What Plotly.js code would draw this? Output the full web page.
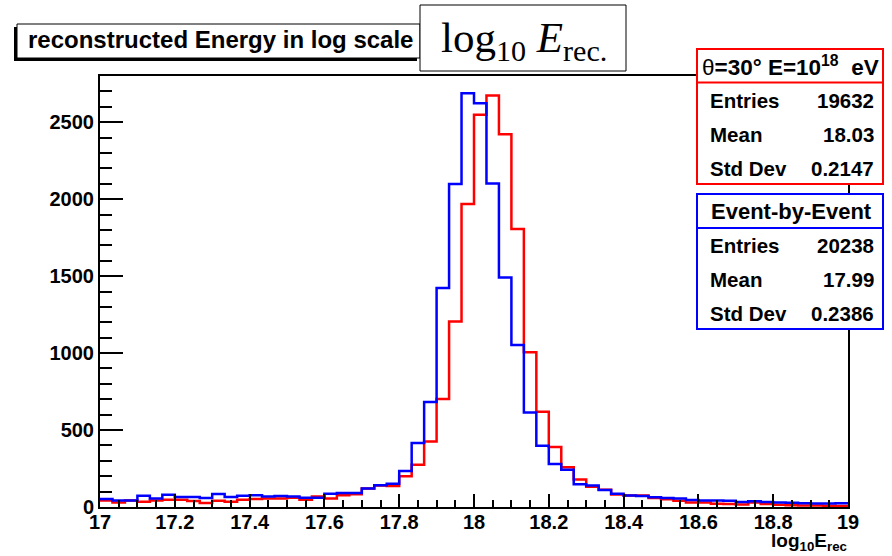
<!DOCTYPE html>
<html><head><meta charset="utf-8">
<script src="https://cdn.plot.ly/plotly-3.0.1.min.js"></script>
<style>html,body{margin:0;padding:0;background:#fff}#chart{width:892px;height:556px}</style>
</head><body><div id="chart"></div>
<script>
// ---- binning ----
const binMin = 17, binMax = 19, nBins = 60;

// ---- histogram contents ----
// red: theta=30deg, E=1e18 eV
const countsFixed = [43,30,43,34,43,47,47,39,26,41,
                     34,47,52,56,56,60,47,69,55,76,
                     83,120,140,136,200,275,426,701,1205,1968,
                     2548,2673,2422,1806,1006,619,389,258,179,132,
                     112,82,74,75,58,50,41,30,30,21,
                     19,17,30,19,14,11,10,9,8,7];
// blue: event-by-event
const countsEbE = [52,43,43,73,56,80,65,65,58,84,
                   65,73,76,69,71,69,60,60,86,91,
                   91,120,142,151,234,416,682,1422,2098,2688,
                   2623,2101,1491,1052,614,398,280,242,147,140,
                   110,86,74,72,64,59,56,45,43,42,
                   41,33,38,33,30,28,25,23,23,24];

// ---- stats boxes ----
const statLabels = ['Entries','Mean','Std Dev'];
const statsFixed = ['19632','18.03','0.2147'];
const statsEbE = ['20238','17.99','0.2386'];
const headerFixed = '<span style="font-weight:normal">θ</span>=30° E=10<sup>18</sup>&nbsp; eV';
const headerEbE = 'Event-by-Event';

// ---- ticks ----
const xTickVals = [17,17.2,17.4,17.6,17.8,18,18.2,18.4,18.6,18.8,19];
const xTickText = ['17','17.2','17.4','17.6','17.8','18','18.2','18.4','18.6','18.8','19'];
const yTickVals = [0,500,1000,1500,2000,2500];
const yTickText = ['0','500','1000','1500','2000','2500'];

const titleText = 'reconstructed Energy in log scale';
const formulaText = 'log<sub>10</sub> <i>E</i><sub>rec.</sub>';
const xTitleText = 'log<sub>10</sub>E<sub>rec</sub>';

// ---- geometry helpers (pixel -> paper) ----
const L = 100, R = 848, T = 76, B = 507;
const px = x => (x - L) / (R - L);
const py = y => (B - y) / (B - T);

const edges = Array.from({length: nBins + 1}, (_, i) => binMin + i * (binMax - binMin) / nBins);
const stepY = c => c.concat([c[c.length - 1]]);

const FONT = 'Liberation Sans, Arial, Helvetica, sans-serif';

const traces = [
  {x: edges, y: stepY(countsFixed), type: 'scatter', mode: 'lines',
   line: {shape: 'hv', color: '#ff0000', width: 2.5}, hoverinfo: 'skip'},
  {x: edges, y: stepY(countsEbE), type: 'scatter', mode: 'lines',
   line: {shape: 'hv', color: '#0000ff', width: 2.5}, hoverinfo: 'skip'}
];

function rect(x0, y0, x1, y1, lineColor, lw, fill) {
  return {type: 'rect', xref: 'paper', yref: 'paper', x0: px(x0), x1: px(x1), y0: py(y1), y1: py(y0),
          line: {color: lineColor, width: lw}, fillcolor: fill, layer: 'above'};
}
function hline(x0, x1, y, color, lw) {
  return {type: 'line', xref: 'paper', yref: 'paper', x0: px(x0), x1: px(x1), y0: py(y), y1: py(y),
          line: {color: color, width: lw}, layer: 'above'};
}

const shapes = [
  // title pave with bottom-left shadow
  rect(14, 27, 417, 61, '#000', 0, '#000'),
  rect(17, 24, 420, 58, '#000', 1, '#fff'),
  // formula box
  rect(420, 5, 626, 71, '#000', 1, '#fff'),
  // red stats
  rect(697, 49, 883, 184, '#ff0000', 2, '#fff'),
  hline(697, 883, 82.5, '#ff0000', 2),
  // blue stats
  rect(697, 194, 883, 329, '#0000ff', 2, '#fff'),
  hline(697, 883, 228, '#0000ff', 2)
];

const ann = [];
function txt(x, y, text, anchor, size, extra) {
  ann.push(Object.assign({xref: 'paper', yref: 'paper', x: px(x), y: py(y), text: text, showarrow: false,
    xanchor: anchor, yanchor: 'middle', font: {family: FONT, size: size, color: '#000', weight: 'bold'}}, extra || {}));
}
txt(26, 40, titleText, 'left', 24);
ann.push({xref: 'paper', yref: 'paper', x: px(524), y: py(41), text: formulaText, showarrow: false,
  xanchor: 'center', yanchor: 'middle', font: {family: 'Liberation Serif, DejaVu Serif, serif', size: 43, color: '#000'}});
txt(790, 66, headerFixed, 'center', 22.5);
txt(791, 211, headerEbE, 'center', 22);
const rowY1 = [100, 134, 168], rowY2 = [245, 279, 313];
statLabels.forEach((lab, i) => {
  txt(708, rowY1[i], lab, 'left', 20.5);
  txt(876, rowY1[i], statsFixed[i], 'right', 20.5);
  txt(708, rowY2[i], lab, 'left', 20.5);
  txt(876, rowY2[i], statsEbE[i], 'right', 20.5);
});
txt(849, 542, xTitleText, 'right', 19);

const layout = {
  width: 892, height: 556,
  margin: {l: L, r: 892 - R, t: T, b: 556 - B, pad: 0},
  paper_bgcolor: '#fff', plot_bgcolor: '#fff',
  showlegend: false,
  xaxis: {range: [binMin, binMax], tickvals: xTickVals, ticktext: xTickText,
    ticks: 'inside', ticklen: 13, tickwidth: 2, tickcolor: '#000',
    minor: {ticks: 'inside', ticklen: 7, tickwidth: 2, dtick: 0.05, tickcolor: '#000', showgrid: false},
    showline: true, linewidth: 2, linecolor: '#000', mirror: true,
    showgrid: false, zeroline: false, ticklabelstandoff: -4,
    tickfont: {family: FONT, size: 20, color: '#000', weight: 'bold'}},
  yaxis: {range: [0, 2800], tickvals: yTickVals, ticktext: yTickText,
    ticks: 'inside', ticklen: 23, tickwidth: 2, tickcolor: '#000',
    minor: {ticks: 'inside', ticklen: 12, tickwidth: 2, dtick: 100, tickcolor: '#000', showgrid: false},
    showline: true, linewidth: 2, linecolor: '#000', mirror: true,
    showgrid: false, zeroline: false,
    tickfont: {family: FONT, size: 20, color: '#000', weight: 'bold'}},
  shapes: shapes,
  annotations: ann
};

Plotly.newPlot('chart', traces, layout, {staticPlot: true, displayModeBar: false});
</script>
</body></html>
